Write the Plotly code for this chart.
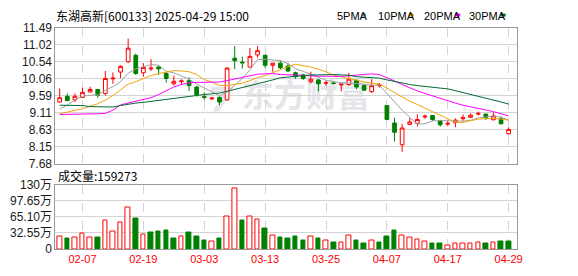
import plotly.graph_objects as go

W, H = 578, 276

dates = ["01-27","02-05","02-06","02-07","02-10","02-11","02-12","02-13","02-14","02-17",
         "02-18","02-19","02-20","02-21","02-24","02-25","02-26","02-27","02-28","03-03",
         "03-04","03-05","03-06","03-07","03-10","03-11","03-12","03-13","03-14","03-17",
         "03-18","03-19","03-20","03-21","03-24","03-25","03-26","03-27","03-28","03-31",
         "04-01","04-02","04-03","04-07","04-08","04-09","04-10","04-11","04-14","04-15",
         "04-16","04-17","04-18","04-21","04-22","04-23","04-24","04-25","04-28","04-29"]

opens = [9.41,9.57,9.47,9.54,9.69,9.76,9.65,10.06,10.25,10.54,
         10.72,10.23,10.34,10.39,10.21,9.92,9.98,10.01,9.83,9.56,
         9.50,9.54,9.47,10.64,10.53,10.39,10.73,10.72,10.44,10.50,
         10.42,10.23,10.17,9.98,10.03,9.94,9.94,9.89,9.90,10.02,
         9.87,9.70,9.87,9.31,8.82,8.21,8.78,8.81,8.99,9.03,
         8.88,8.79,8.83,8.94,8.98,9.07,9.07,8.91,8.94,8.52]
highs = [9.79,9.65,9.65,9.81,9.84,9.78,10.28,10.24,10.44,11.19,
         10.77,10.50,10.61,10.43,10.25,10.15,10.05,10.10,9.86,9.68,
         9.55,9.57,10.39,10.98,10.68,10.93,10.98,10.74,10.51,10.57,
         10.50,10.26,10.20,10.26,10.05,10.01,9.99,9.93,10.23,10.03,
         9.88,10.05,9.94,9.32,8.97,8.79,8.96,9.06,9.06,9.04,
         8.91,8.88,8.95,9.06,9.09,9.14,9.08,9.12,9.01,8.70]
lows = [9.39,9.43,9.41,9.52,9.68,9.53,9.59,9.92,10.08,10.50,
        10.17,10.12,10.28,10.17,9.95,9.87,9.89,9.72,9.56,9.47,
        9.46,9.32,9.44,10.33,10.35,10.38,10.66,10.37,10.26,10.33,
        10.25,10.06,10.03,9.93,9.71,9.86,9.90,9.71,9.86,9.77,
        9.73,9.66,9.81,8.91,8.30,8.01,8.78,8.72,8.94,8.88,
        8.72,8.74,8.70,8.88,8.97,9.03,8.90,8.90,8.77,8.50]
closes = [9.53,9.45,9.57,9.68,9.76,9.60,10.07,10.08,10.41,10.92,
          10.21,10.38,10.36,10.34,10.07,9.99,10.00,9.87,9.62,9.54,
          9.52,9.41,10.36,10.57,10.51,10.69,10.85,10.44,10.50,10.37,
          10.28,10.12,10.07,10.05,9.92,9.95,9.93,9.91,10.05,9.83,
          9.74,9.87,9.89,8.92,8.56,8.68,8.85,8.92,9.01,8.92,
          8.77,8.81,8.90,8.97,9.04,9.09,8.97,9.02,8.80,8.64]

ma5 = [9.22,9.32,9.47,9.57,9.60,9.61,9.74,9.84,9.98,10.22,
       10.34,10.40,10.46,10.44,10.27,10.23,10.15,10.05,9.91,9.80,
       9.70,9.59,9.69,9.88,10.07,10.31,10.60,10.61,10.60,10.57,
       10.49,10.34,10.27,10.18,10.09,10.02,9.98,9.95,9.95,9.93,
       9.89,9.88,9.88,9.65,9.40,9.18,8.98,8.79,8.80,8.88,
       8.89,8.89,8.88,8.87,8.90,8.96,8.99,9.02,8.98,8.90]
ma10 = [9.08,9.12,9.16,9.22,9.29,9.36,9.46,9.59,9.75,9.91,
        9.98,10.07,10.15,10.21,10.25,10.29,10.28,10.26,10.18,10.04,
        9.97,9.87,9.87,9.90,9.94,10.01,10.10,10.15,10.24,10.32,
        10.40,10.47,10.44,10.39,10.33,10.26,10.16,10.11,10.07,10.01,
        9.96,9.93,9.92,9.80,9.67,9.54,9.43,9.34,9.23,9.14,
        9.04,8.94,8.84,8.84,8.89,8.93,8.94,8.95,8.93,8.90]
ma20 = [9.06,9.06,9.06,9.07,9.07,9.08,9.09,9.18,9.33,9.38,
        9.42,9.47,9.53,9.62,9.73,9.83,9.90,9.95,9.96,9.97,
        9.97,9.97,10.01,10.05,10.09,10.15,10.19,10.20,10.21,10.18,
        10.18,10.17,10.16,10.14,10.13,10.13,10.13,10.13,10.15,10.17,
        10.18,10.20,10.18,10.10,10.00,9.90,9.80,9.72,9.65,9.58,
        9.50,9.43,9.38,9.32,9.28,9.23,9.19,9.14,9.08,9.02]
ma30 = [9.32,9.32,9.31,9.31,9.28,9.27,9.27,9.27,9.31,9.35,
        9.38,9.40,9.43,9.46,9.49,9.52,9.55,9.58,9.60,9.62,
        9.64,9.66,9.71,9.76,9.81,9.86,9.92,9.97,10.03,10.09,
        10.11,10.14,10.15,10.17,10.17,10.18,10.18,10.17,10.16,10.12,
        10.11,10.09,10.08,10.03,9.98,9.93,9.90,9.87,9.84,9.82,
        9.80,9.78,9.73,9.68,9.63,9.57,9.51,9.47,9.41,9.35]

# volume in units of 10k (万) shares
volume = [26.2,21.1,22.3,31.9,22.3,23.0,56.8,35.7,53.0,83.6,
          61.3,30.0,32.5,34.5,38.3,21.0,24.9,32.5,24.9,17.2,
          14.7,21.0,66.4,121.9,57.4,66.4,58.7,42.1,28.1,23.0,
          21.0,24.9,17.2,26.2,21.0,16.6,13.4,12.8,28.1,17.2,
          11.5,16.6,13.4,24.9,38.3,28.1,23.0,18.5,14.7,11.5,
          11.5,7.0,10.8,10.8,10.8,12.8,11.5,12.8,15.3,15.93]
vol_up = [1,0,1,1,1,0,1,1,1,1,
          0,1,0,0,0,0,1,0,0,0,
          1,0,1,1,0,1,1,0,1,0,
          0,0,0,1,0,1,0,1,1,0,
          0,1,0,0,0,1,1,1,1,0,
          0,1,1,1,1,1,0,1,0,0]

price_ticks = [7.68, 8.15, 8.63, 9.11, 9.59, 10.06, 10.54, 11.02, 11.49]
price_tick_text = ["7.68", "8.15", "8.63", "9.11", "9.59", "10.06", "10.54", "11.02", "11.49"]
vol_ticks = [0, 32.55, 65.10, 97.65, 130.2]
vol_tick_text = ["0", "32.55万", "65.10万", "97.65万", "130万"]
x_tick_labels = ["02-07", "02-19", "03-03", "03-13", "03-25", "04-07", "04-17", "04-29"]

title_text = "东湖高新[600133] 2025-04-29 15:00"
vol_title = "成交量:159273"
legend_names = ["5PMA", "10PMA", "20PMA", "30PMA"]

RED = "#ff0000"
GREEN = "#008000"
MA_COLORS = ["#a0a0a0", "#f2a20c", "#ff00ff", "#006b35"]

idx = list(range(len(dates)))
tick_idx = [i for i, d in enumerate(dates) if d in x_tick_labels]


def px(x):
    return x / W


def py(y):
    return 1 - y / H


fig = go.Figure()

fig.add_trace(go.Candlestick(
    x=idx, open=opens, high=highs, low=lows, close=closes,
    increasing=dict(line=dict(color=RED, width=1), fillcolor="#ffffff"),
    decreasing=dict(line=dict(color=GREEN, width=1), fillcolor=GREEN),
    whiskerwidth=0, hoverinfo="skip", xaxis="x", yaxis="y", showlegend=False))

for ma, col in zip([ma5, ma10, ma20, ma30], MA_COLORS):
    fig.add_trace(go.Scatter(x=idx, y=ma, mode="lines", line=dict(color=col, width=1),
                             hoverinfo="skip", xaxis="x", yaxis="y", showlegend=False))

fig.add_trace(go.Bar(
    x=idx, y=volume, width=0.6,
    marker=dict(color=["#ffffff" if u else GREEN for u in vol_up],
                line=dict(color=[RED if u else GREEN for u in vol_up], width=1)),
    hoverinfo="skip", xaxis="x2", yaxis="y2", showlegend=False))

xr = [-0.56, 60.04]
x_dom = [px(56), px(522)]
grid_col = "#d4d4d4"
frame_col = "#9a9a9a"

common_x = dict(range=xr, domain=x_dom, tickvals=tick_idx, showgrid=True, gridcolor=grid_col,
                griddash="dash", gridwidth=1, zeroline=False, showline=True, mirror=True,
                linecolor=frame_col, linewidth=1, ticks="", fixedrange=True)

fig.update_layout(
    width=W, height=H, margin=dict(l=0, r=0, t=0, b=0),
    paper_bgcolor="#ffffff", plot_bgcolor="#ffffff",
    hovermode=False, bargap=0,
    xaxis=dict(**common_x, anchor="y", showticklabels=False, rangeslider=dict(visible=False)),
    yaxis=dict(domain=[py(165), py(22)], range=[7.68, 11.49], tickvals=price_ticks,
               ticktext=price_tick_text, showgrid=True, gridcolor=grid_col, zeroline=False,
               showline=True, mirror=True, linecolor=frame_col, ticks="",
               tickfont=dict(family="Liberation Sans, Arial", size=12, color="#1a1a1a"),
               anchor="x", fixedrange=True),
    xaxis2=dict(**common_x, anchor="y2", ticktext=x_tick_labels,
                tickfont=dict(family="Liberation Sans Narrow, Liberation Sans", size=11, color=RED)),
    yaxis2=dict(domain=[py(255), py(187)], range=[0, 130.2], tickvals=vol_ticks,
                ticktext=vol_tick_text, showgrid=True, gridcolor=grid_col, zeroline=False,
                showline=True, mirror=True, linecolor=frame_col, ticks="",
                tickfont=dict(family="Liberation Sans, Noto Sans CJK SC", size=12, color="#1a1a1a"),
                anchor="x2", fixedrange=True),
)

annotations = []
annotations.append(dict(text=title_text, x=px(55), y=py(8.5), xref="paper", yref="paper",
                        xanchor="left", yanchor="middle", showarrow=False,
                        font=dict(family="Noto Sans CJK SC", size=12, color="#000000")))
annotations.append(dict(text=vol_title, x=px(57), y=py(177.5), xref="paper", yref="paper",
                        xanchor="left", yanchor="middle", showarrow=False,
                        font=dict(family="Noto Sans CJK SC", size=12, color="#000000")))

legend_x = [339, 380, 426, 472]
square_x = [365, 413, 460, 506]
shapes = []
for name, lx, sx, col in zip(legend_names, legend_x, square_x, MA_COLORS):
    annotations.append(dict(text=name, x=px(lx), y=py(9), xref="paper", yref="paper",
                            xanchor="left", yanchor="middle", showarrow=False,
                            font=dict(family="Liberation Sans Narrow, Liberation Sans", size=11,
                                      color="#000000")))
    shapes.append(dict(type="rect", xref="paper", yref="paper", x0=px(sx), x1=px(sx + 5),
                       y0=py(10), y1=py(7), fillcolor=col, line=dict(width=0)))

# watermark
shapes.append(dict(type="rect", xref="paper", yref="paper", x0=px(238), x1=px(380),
                   y0=py(114), y1=py(78), line=dict(width=0), fillcolor="rgba(0,0,0,0)",
                   layer="below",
                   label=dict(text="东方财富", font=dict(family="Noto Sans CJK SC", size=32,
                                                     color="#e5e5ea", weight="bold"),
                              textposition="middle center")))
shapes.append(dict(type="path", xref="paper", yref="paper", layer="below",
                   path=(f"M {px(214)},{py(84)} L {px(236)},{py(84)} L {px(222)},{py(110)} "
                         f"L {px(215)},{py(110)} L {px(226)},{py(90)} L {px(212)},{py(90)} Z"),
                   fillcolor="#e5e5ea", line=dict(width=0)))

fig.update_layout(annotations=annotations, shapes=shapes)

fig.write_html("out.html")
